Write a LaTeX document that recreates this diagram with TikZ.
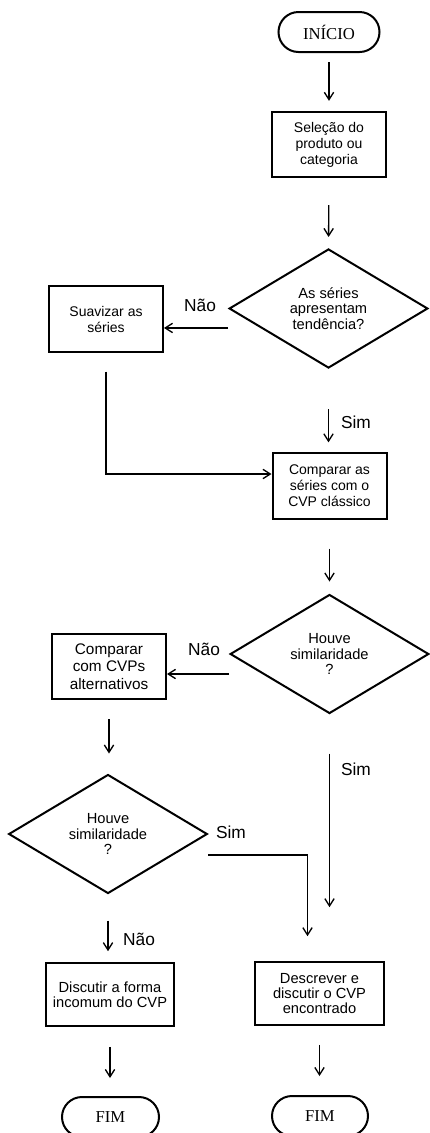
\documentclass[tikz,border=0pt]{standalone}
\usepackage{fontspec}
\setmainfont{Liberation Serif}
\setsansfont{Liberation Sans}
\usetikzlibrary{arrows.meta}
\usetikzlibrary{shapes.geometric}
\usetikzlibrary{positioning}

\begin{document}
\begin{tikzpicture}[x=0.75pt,y=-0.75pt,->,>={Straight Barb[length=5.5pt,width=7pt]},line width=1pt]
\tikzstyle{terminal} = [draw,rectangle,rounded corners=15pt,line width=1.5pt,minimum width=75.75pt,minimum height=30pt,font=\fontsize{12.5}{14}\selectfont]
\tikzstyle{process} = [draw,rectangle,line width=1.5pt,align=center,minimum width=85.5pt,minimum height=49pt,font=\sffamily\fontsize{10.5}{12}\selectfont]
\tikzstyle{decision} = [draw,diamond,line width=1.5pt,align=center,minimum width=149pt,minimum height=89pt,inner sep=0pt,font=\sffamily\fontsize{11}{11.5}\selectfont]
\tikzstyle{answer} = [font=\sffamily\fontsize{13}{15}\selectfont]

\useasboundingbox (0,0) rectangle (429,1133);

% main column
\node[terminal] (inicio) at (329,32) {INÍCIO};
\node[process] (selecao) at (329,144.5) {Seleção do\\produto ou\\categoria};
\node[decision] (tendencia) at (328.5,308.5) {As séries\\apresentam\\tendência?};
\node[process] (suavizar) at (106,319) {Suavizar as\\séries};
\node[process] (classico) at (329.5,486) {Comparar as\\séries com o\\CVP clássico};
\node[decision] (simil1) at (329.5,654) {Houve\\similaridade\\?};
\node[process,font=\sffamily\fontsize{11.5}{13}\selectfont] (alternativos) at (109,666.5) {Comparar\\com CVPs\\alternativos};
\node[decision] (simil2) at (108,834) {Houve\\similaridade\\?};
\node[process,minimum width=96pt,minimum height=47pt,font=\sffamily\fontsize{11}{11.25}\selectfont] (discutir) at (110,994.5) {Discutir a forma\\incomum do CVP};
\node[process,minimum width=96.75pt,minimum height=47pt,font=\sffamily\fontsize{11}{11.25}\selectfont] (descrever) at (319.5,993.5) {Descrever e\\discutir o CVP\\encontrado};
\node[terminal,minimum width=72.75pt] (fim1) at (110.5,1117) {FIM};
\node[terminal,minimum width=72pt] (fim2) at (320,1116) {FIM};

% answers
\node[answer] (nao1) at (200,305) {Não};
\node[answer] (sim1) at (356,422) {Sim};
\node[answer] (nao2) at (204,649) {Não};
\node[answer] (sim2) at (356,769) {Sim};
\node[answer] (sim3) at (231,832) {Sim};
\node[answer] (nao3) at (139,939) {Não};

% connectors
\draw[shorten <=6.75pt,shorten >=7.5pt] (inicio.south) -- (selecao.north);
\draw[shorten <=20.25pt,shorten >=8.25pt] (selecao.south) -- (tendencia.north);
\draw ([yshift=-14.6pt]tendencia.west) -- ([yshift=-14.6pt]tendencia.west -| suavizar.east);
\draw[shorten <=30pt,shorten >=7.5pt] (tendencia.south) -- (tendencia.south |- classico.north);
\draw[shorten <=14.25pt] (suavizar.south) |- ([yshift=9pt]classico.west);
\draw[shorten <=21.75pt,shorten >=9pt] (classico.south) -- (classico.south |- simil1.north);
\draw ([yshift=-15pt]simil1.west) -- ([yshift=-15pt]simil1.west -| alternativos.east);
\draw[shorten <=14.25pt,shorten >=15pt] (alternativos.south) -- (alternativos.south |- simil2.north);
\draw[shorten <=29.25pt,shorten >=40.5pt] (simil1.south) -- (simil1.south |- descrever.north);
\draw[shorten >=18.75pt] ([yshift=-15.75pt]simil2.east) -| ([xshift=-9pt]descrever.north);
\draw[shorten <=19.5pt,shorten >=8.25pt] (simil2.south) -- (simil2.south |- discutir.north);
\draw[shorten <=15pt,shorten >=13.5pt] (discutir.south) -- (discutir.south |- fim1.north);
\draw[shorten <=14.25pt,shorten >=14.25pt] (descrever.south) -- (descrever.south |- fim2.north);

\end{tikzpicture}
\end{document}
